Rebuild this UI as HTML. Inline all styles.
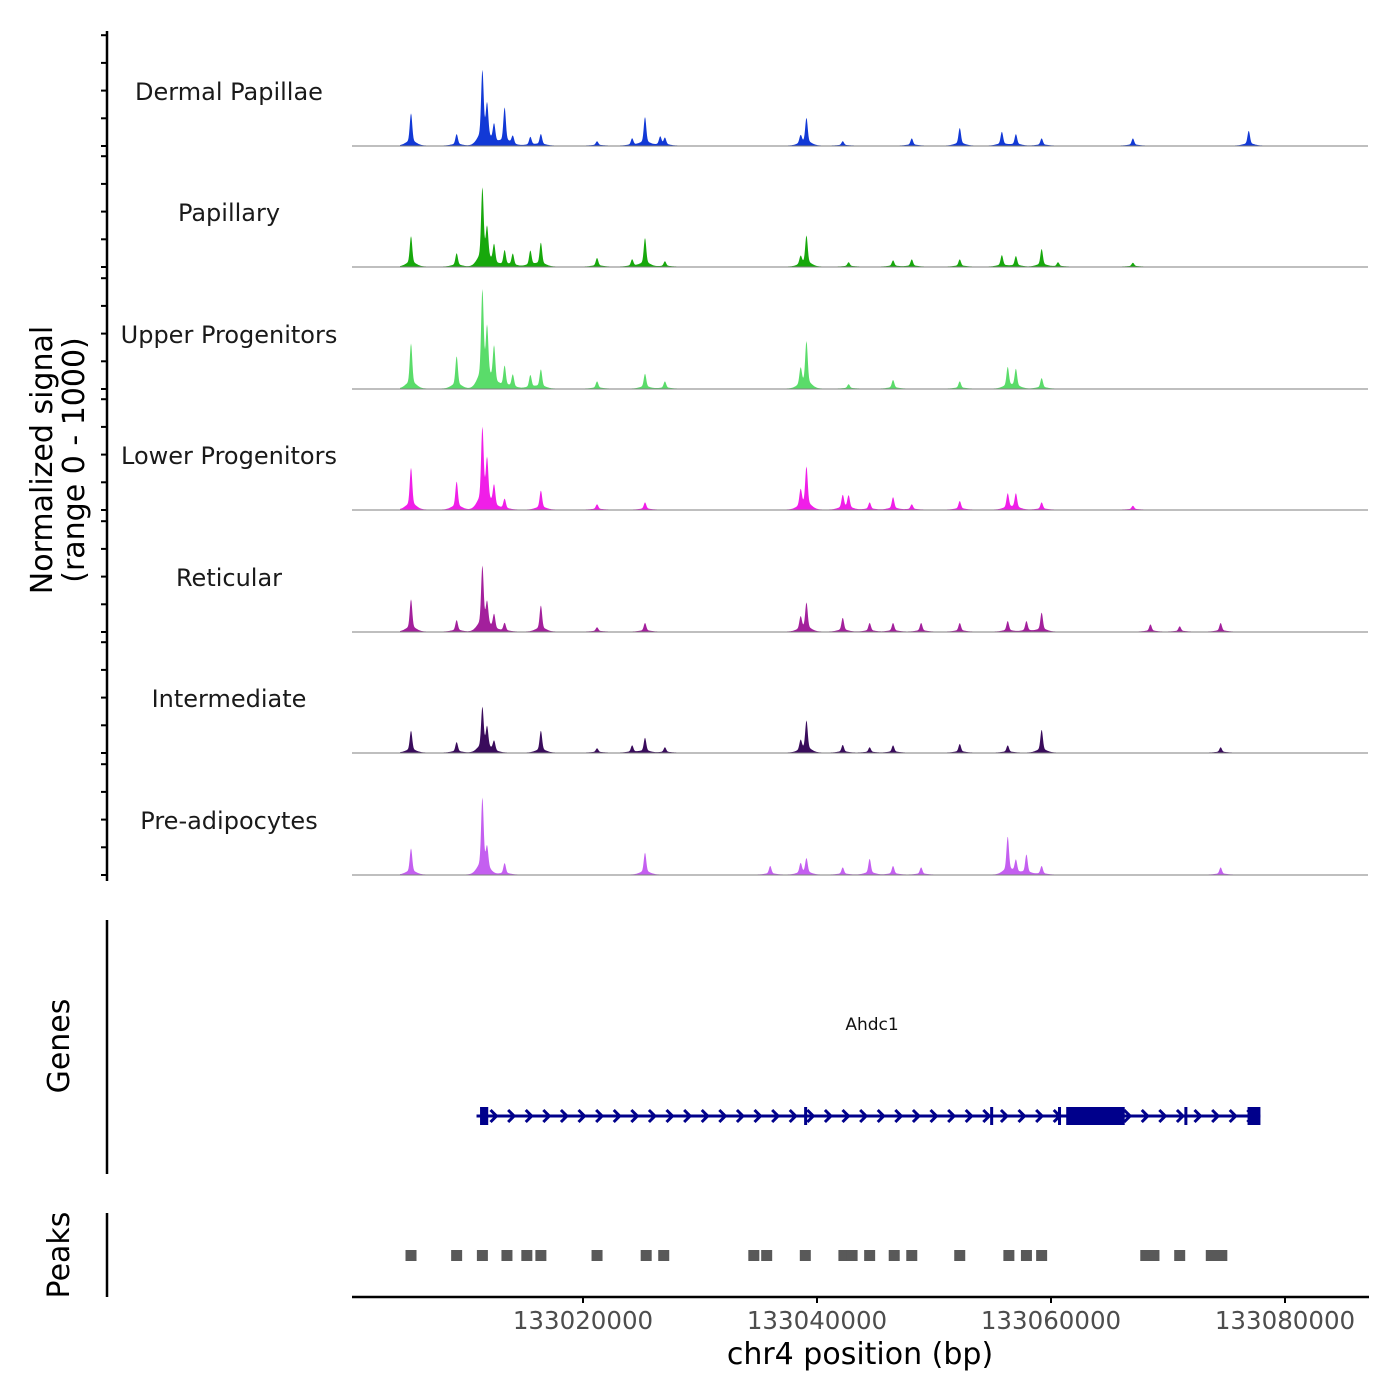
<!DOCTYPE html>
<html><head><meta charset="utf-8"><style>
html,body{margin:0;padding:0;background:#fff;}
svg{display:block;font-family:"DejaVu Sans","Liberation Sans",sans-serif;}
</style></head><body>
<svg id="chart" width="1400" height="1400" viewBox="0 0 1400 1400" xmlns="http://www.w3.org/2000/svg">
<g id="tracks"></g>
<g id="genes"></g>
<g id="peaks"></g>
<g id="axes"></g>
</svg>
<script>
// ---- data ----
const trackNames = ["Dermal Papillae","Papillary","Upper Progenitors","Lower Progenitors","Reticular","Intermediate","Pre-adipocytes"];
const trackColors = ["#1239d6","#17a80c","#5adc6a","#f01ee8","#a3209c","#3a0c5c","#c45ff0"];
// peak positions (kb) and heights (0-1000 normalized) per track
const peaksDP = [[133005.3,340],[133009.2,120],[133011.4,760],[133011.8,370],[133012.4,200],[133013.3,395],[133014.0,90],[133015.5,90],[133016.4,120],[133021.2,45],[133024.2,75],[133025.3,300],[133026.6,90],[133027.0,75],[133038.6,90],[133039.1,285],[133042.2,45],[133048.1,75],[133052.2,185],[133055.8,145],[133057.0,120],[133059.2,75],[133067.0,75],[133076.9,155]];
const peaksPap = [[133005.3,320],[133009.2,140],[133011.4,800],[133011.8,340],[133012.4,210],[133013.3,165],[133014.0,130],[133015.5,165],[133016.4,250],[133021.2,90],[133024.2,75],[133025.3,300],[133027.0,55],[133038.6,90],[133039.1,320],[133042.7,45],[133046.5,65],[133048.1,75],[133052.2,75],[133055.8,120],[133057.0,110],[133059.2,185],[133060.6,45],[133067.0,40]];
const peaksUp = [[133005.3,475],[133009.2,340],[133011.4,990],[133011.8,550],[133012.4,410],[133013.3,230],[133014.0,140],[133015.5,140],[133016.4,200],[133021.2,75],[133025.3,155],[133027.0,75],[133038.6,185],[133039.1,485],[133042.7,45],[133046.5,90],[133052.2,75],[133056.3,220],[133057.0,200],[133059.2,110]];
const peaksLow = [[133005.3,440],[133009.2,295],[133011.4,825],[133011.8,460],[133012.4,230],[133013.3,110],[133016.4,200],[133021.2,55],[133025.3,75],[133038.6,185],[133039.1,440],[133042.2,145],[133042.7,140],[133044.5,75],[133046.5,130],[133048.1,55],[133052.2,90],[133056.3,165],[133057.0,165],[133059.2,75],[133067.0,40]];
const peaksRet = [[133005.3,340],[133009.2,120],[133011.4,670],[133011.8,250],[133012.4,165],[133013.3,90],[133016.4,275],[133021.2,45],[133025.3,90],[133038.6,140],[133039.1,295],[133042.2,145],[133044.5,90],[133046.5,90],[133048.9,90],[133052.2,90],[133056.3,110],[133057.9,110],[133059.2,200],[133068.5,75],[133071.0,55],[133074.5,90]];
const peaksInt = [[133005.3,230],[133009.2,110],[133011.4,460],[133011.8,230],[133012.4,110],[133016.4,230],[133021.2,45],[133024.2,75],[133025.3,155],[133027.0,55],[133038.6,110],[133039.1,330],[133042.2,80],[133044.5,55],[133046.5,75],[133052.2,90],[133056.3,75],[133059.2,240],[133074.5,55]];
const peaksPre = [[133005.3,275],[133011.4,790],[133011.8,230],[133013.3,120],[133025.3,230],[133036.0,90],[133038.6,110],[133039.1,165],[133042.2,75],[133044.5,165],[133046.5,90],[133048.9,75],[133056.3,395],[133057.0,140],[133057.9,210],[133059.2,90],[133074.5,75]];
const trackPeaks = [peaksDP,peaksPap,peaksUp,peaksLow,peaksRet,peaksInt,peaksPre];
const peakStarts = [133005.3,133009.2,133011.4,133013.5,133015.2,133016.4,133021.2,133025.4,133026.9,133034.6,133035.7,133039.0,133042.3,133043.0,133044.5,133046.6,133048.1,133052.2,133056.4,133057.9,133059.2,133068.1,133068.8,133071.0,133073.7,133074.6];
const exons = [[133011.2,133011.9],[133038.9,133039.1],[133054.8,133055.0],[133060.6,133060.8],[133061.3,133066.3],[133071.4,133071.6],[133076.8,133077.9]];
const geneRange = [133010.9,133077.9];
const xTicks = [133020000,133040000,133060000,133080000];
const xTickLabels = ["133020000","133040000","133060000","133080000"];
// ---- scales ----
const NS="http://www.w3.org/2000/svg";
const x = kb => 583 + (kb-133020)*234/20;
const baselines = [146,267,389,510,632,753,875];
const hScale = v => v*0.1;
function mk(tag, attrs, parent){const e=document.createElementNS(NS,tag);for(const k in attrs)e.setAttribute(k,attrs[k]);parent.appendChild(e);return e;}
const tracks=document.getElementById('tracks');
trackNames.forEach((name,i)=>{
  const b=baselines[i];
  const g=mk('g',{},tracks);
  
  
  const lbl=mk('text',{x:229,y:b-46,'text-anchor':'middle','font-size':'24',fill:'#1a1a1a'},g);
  lbl.textContent=name;
  
  
  let d='M400,'+b;
  for(let px=400;px<=1325;px+=0.5){
    let v=5;
    for(const [p,h] of trackPeaks[i]){
      const dx=px-x(p);
      v+= h*0.8*Math.exp(-dx*dx/(2*1.2*1.2)) + h*0.15*Math.exp(-dx*dx/(2*5*5));
    }
    d+=' L'+px+','+(b-hScale(v)).toFixed(2);
  }
  d+=' L1325,'+b+' Z';
  const path=mk('path',{d:d,fill:trackColors[i],stroke:'none'},g);
  
  
  const bl=mk('line',{x1:352,x2:1368,y1:b,y2:b,stroke:'#7f7f7f','stroke-width':1},g);
  
  
});
// genes
const genes=document.getElementById('genes');
const gl=mk('line',{x1:x(geneRange[0]),x2:x(geneRange[1]),y1:1116,y2:1116,stroke:'#00008b','stroke-width':3},genes);


for(let ax=x(geneRange[0])+17; ax<x(geneRange[1])-8; ax+=17.6){
  const a=mk('polyline',{points:`${ax-3},${1110} ${ax+3},${1116} ${ax-3},${1122}`,fill:'none',stroke:'#00008b','stroke-width':3},genes);
  
  
}
exons.forEach(e=>{
  const w=Math.max(3,x(e[1])-x(e[0]));
  const r=mk('rect',{x:x(e[0]),y:1107,width:w,height:18,fill:'#00008b'},genes);
  
  
});
const gt=mk('text',{x:872,y:1030,'text-anchor':'middle','font-size':'17',fill:'#111'},genes);
gt.textContent='Ahdc1';


// peaks
const pk=document.getElementById('peaks');
peakStarts.forEach(p=>{
  const r=mk('rect',{x:x(p)-5.5,y:1250,width:11,height:11,fill:'#595959'},pk);
  
  
});
// axes
const ax=document.getElementById('axes');
function line(a,nm){const l=mk('line',Object.assign({stroke:'#000','stroke-width':2.5},a),ax);return l;}
line({x1:107,x2:107,y1:31,y2:881},'y-axis-line-signal');
baselines.forEach((b,i)=>{
  for(let k=0;k<5;k++){
    const y=b-k*27.7;
    line({x1:101,x2:107,y1:y,y2:y,'stroke-width':2},'y-tick');
  }
});
line({x1:107,x2:107,y1:920,y2:1174},'y-axis-line-genes');
line({x1:107,x2:107,y1:1213,y2:1297},'y-axis-line-peaks');
line({x1:352,x2:1369,y1:1297,y2:1297},'x-axis-line');
xTicks.forEach((t,i)=>{
  const px=x(t/1000);
  line({x1:px,x2:px,y1:1297,y2:1303,'stroke-width':2},'x-tick');
  const tx=mk('text',{x:px,y:1329,'text-anchor':'middle','font-size':'24.5',fill:'#4d4d4d'},ax);
  tx.textContent=xTickLabels[i];
  
  
});
function rtext(xx,yy,lines,nm){
  const t=mk('text',{transform:`translate(${xx},${yy}) rotate(-90)`,'text-anchor':'middle','font-size':'30',fill:'#000'},ax);
  lines.forEach((s,i)=>{const ts=mk('tspan',{x:0,dy:i?32:0},t);ts.textContent=s;});
  
  
}
rtext(52,460,['Normalized signal','(range 0 - 1000)'],'y-axis-title');
rtext(69,1046,['Genes'],'genes-axis-title');
rtext(69,1255,['Peaks'],'peaks-axis-title');
const xt=mk('text',{x:860,y:1364,'text-anchor':'middle','font-size':'30',fill:'#000'},ax);
xt.textContent='chr4 position (bp)';


</script>
</body></html>
